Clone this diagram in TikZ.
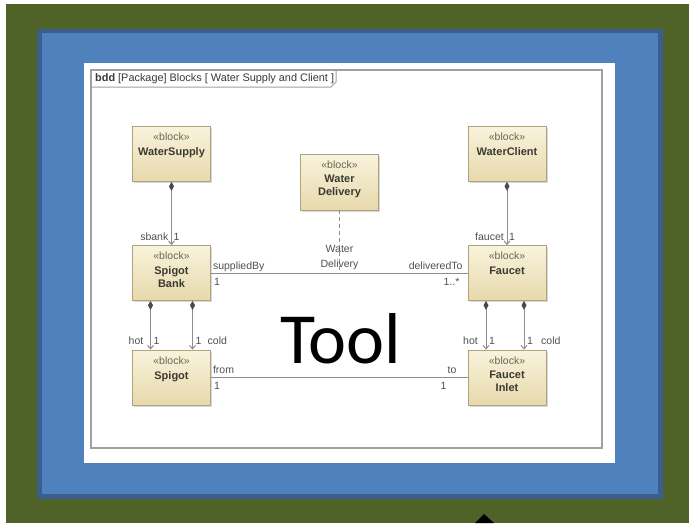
\documentclass[tikz,border=0pt]{standalone}
\usepackage{fontspec}
\setmainfont{Liberation Sans}
\newfontfamily\toolfont{Carlito}
\usetikzlibrary{arrows.meta,shadows,calc}

\definecolor{slidegreen}{HTML}{4F6228}
\definecolor{panelblue}{HTML}{4F81BD}
\definecolor{paneledge}{HTML}{3A5F8E}
\definecolor{framegray}{HTML}{A0A0A0}
\definecolor{blocktop}{HTML}{F8F3DC}
\definecolor{blockbot}{HTML}{E7D9AC}
\definecolor{blockedge}{HTML}{B0A27C}
\definecolor{stereogray}{HTML}{6A6656}
\definecolor{namegray}{HTML}{3A3A32}
\definecolor{lblgray}{HTML}{505050}
\definecolor{linegray}{HTML}{8E8E8E}
\definecolor{diamondgray}{HTML}{4A4A4A}

\tikzset{
  block/.style={draw=blockedge, line width=0.7pt, top color=blocktop, bottom color=blockbot,
    minimum width=78pt, minimum height=55pt, inner sep=0pt,
    drop shadow={shadow xshift=1.5pt, shadow yshift=-1.5pt, opacity=0.3}},
  stereo/.style={anchor=north, yshift=-6pt, inner sep=1pt,
    font=\fontsize{10.5}{12}\selectfont, text=stereogray},
  bname/.style={anchor=north, yshift=-21.5pt, inner sep=0pt, align=center,
    font=\fontsize{11}{12.5}\selectfont\bfseries, text=namegray},
  lbl/.style={inner sep=0pt, font=\fontsize{10.5}{12}\selectfont, text=lblgray},
  assoc/.style={draw=linegray, line width=1pt},
  comp/.style={assoc, {Diamond[length=9pt,width=5pt,fill=diamondgray,color=diamondgray]}-{Straight Barb[length=3.5pt,width=6pt]}},
}

\begin{document}
\begin{tikzpicture}[x=1pt,y=-1pt]
\useasboundingbox (0,0) rectangle (689,523);

% slide background and panels
\fill[white] (0,0) rectangle (689,523);
\fill[slidegreen] (6,4) rectangle (689,523);
\fill[paneledge] (37,29) rectangle (663,499);
\fill[panelblue] (42,33) rectangle (658,494);
\fill[white] (84,63) rectangle (615,463);

% diagram frame with its name tab
\draw[framegray, line width=1.2pt] (91,70) rectangle (602,448);
\draw[framegray, line width=1pt] (91,87) -- (331,87) -- (336,82) -- (336,70);
\node[anchor=base west, inner sep=0pt, font=\fontsize{10.9}{12}\selectfont, text=namegray] (title) at (95,81.5)
  {\textbf{bdd} [Package] Blocks [ Water Supply and Client ]};

% blocks
\node[block, label={[stereo]north:«block»}, label={[bname]north:WaterSupply}] (ws) at (171.5,154) {};
\node[block, label={[stereo]north:«block»}, label={[bname]north:WaterClient}] (wc) at (507,154) {};
\node[block, minimum height=56pt, label={[stereo]north:«block»}, label={[bname]north:Water\\Delivery}] (wd) at (339.5,182) {};
\node[block, label={[stereo]north:«block»}, label={[bname]north:Spigot\\Bank}] (sb) at (171.5,273) {};
\node[block, label={[stereo]north:«block»}, label={[bname]north:Faucet}] (fc) at (507,273) {};
\node[block, label={[stereo]north:«block»}, label={[bname]north:Spigot}] (sp) at (171.5,377.5) {};
\node[block, label={[stereo]north:«block»}, label={[bname]north:Faucet\\Inlet}] (fi) at (507,377.5) {};

% part associations
\draw[comp] (ws.south) -- (sb.north);
\draw[comp] (wc.south) -- (fc.north);
\draw[comp] ($(sb.south)+(-21,0)$) -- ($(sp.north)+(-21,0)$);
\draw[comp] ($(sb.south)+(21,0)$) -- ($(sp.north)+(21,0)$);
\draw[comp] ($(fc.south)+(-21,0)$) -- ($(fi.north)+(-21,0)$);
\draw[comp] ($(fc.south)+(17,0)$) -- ($(fi.north)+(17,0)$);

% plain associations
\draw[assoc] (sb.east) -- (fc.west);
\draw[assoc] (sp.east) -- (fi.west);

% association block
\coordinate (wdfoot) at (wd.south |- sb.east);
\draw[assoc, dash pattern=on 4pt off 3pt] (wd.south) -- (wdfoot);
\node[lbl, align=center, font=\fontsize{10.5}{14.5}\selectfont] (wdlbl) at (339.5,257.5) {Water\\Delivery};

% role names and multiplicities
\node[lbl, anchor=base east] (sbankrole) at ($(sb.north)+(-3,-5)$) {sbank};
\node[lbl, anchor=base west] (sbankmul) at ($(sb.north)+(2,-5)$) {1};
\node[lbl, anchor=base east] (faucetrole) at ($(fc.north)+(-3,-5)$) {faucet};
\node[lbl, anchor=base west] (faucetmul) at ($(fc.north)+(2,-5)$) {1};

\node[lbl, anchor=base east] (sphot) at ($(sp.north)+(-28,-5)$) {hot};
\node[lbl, anchor=base west] (sphotmul) at ($(sp.north)+(-18,-5)$) {1};
\node[lbl, anchor=base west] (spcoldmul) at ($(sp.north)+(24,-5)$) {1};
\node[lbl, anchor=base west] (spcold) at ($(sp.north)+(36,-5)$) {cold};

\node[lbl, anchor=base east] (fihot) at ($(fi.north)+(-29,-5)$) {hot};
\node[lbl, anchor=base west] (fihotmul) at ($(fi.north)+(-18,-5)$) {1};
\node[lbl, anchor=base west] (ficoldmul) at ($(fi.north)+(20,-5)$) {1};
\node[lbl, anchor=base west] (ficold) at ($(fi.north)+(34,-5)$) {cold};

\node[lbl, anchor=base west] (supplied) at ($(sb.east)+(2,-4)$) {suppliedBy};
\node[lbl, anchor=base west] (suppliedmul) at ($(sb.east)+(3,12)$) {1};
\node[lbl, anchor=base east] (delivered) at ($(fc.west)+(-5,-4)$) {deliveredTo};
\node[lbl, anchor=base east] (deliveredmul) at ($(fc.west)+(-8,12)$) {1..*};

\node[lbl, anchor=base west] (fromrole) at ($(sp.east)+(2,-4)$) {from};
\node[lbl, anchor=base west] (frommul) at ($(sp.east)+(3,12)$) {1};
\node[lbl, anchor=base east] (torole) at ($(fi.west)+(-11,-4)$) {to};
\node[lbl, anchor=base east] (tomul) at ($(fi.west)+(-21,12)$) {1};

% overlay caption
\node[anchor=base west, inner sep=0pt, font=\toolfont\fontsize{72}{80}\selectfont] (tool) at (280,363) {Tool};

% pointer tip at the lower edge
\fill[black] (484,514) -- (494,523) -- (475,523) -- cycle;
\end{tikzpicture}
\end{document}
